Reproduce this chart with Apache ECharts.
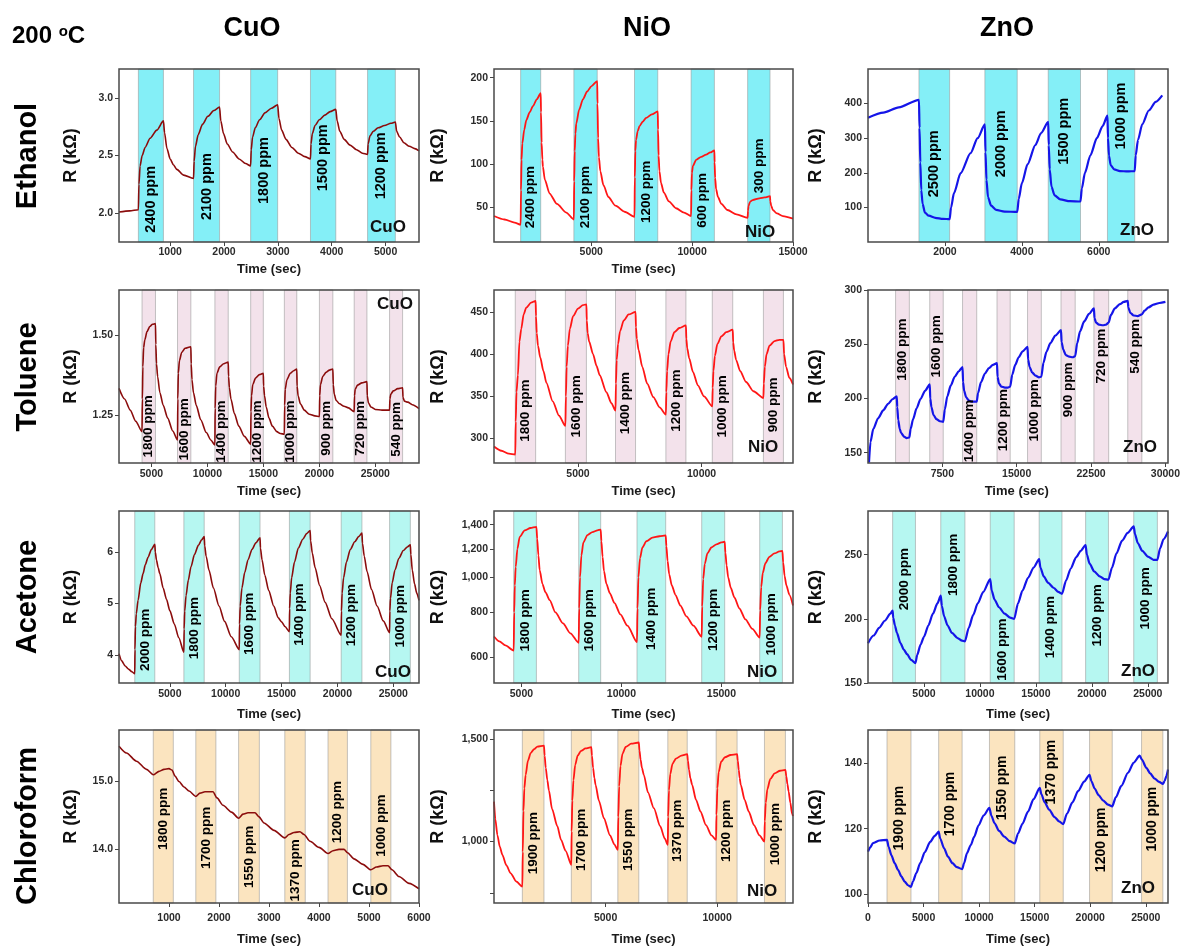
<!DOCTYPE html>
<html><head><meta charset="utf-8">
<script src="https://cdn.jsdelivr.net/npm/echarts@6/dist/echarts.min.js"></script>
<style>html,body{margin:0;padding:0;background:#fff}#c{width:1183px;height:948px}</style>
</head><body><div id="c"></div>
<script>
// ---------------- DATA ----------------
const rowNames = ['Ethanol','Toluene','Acetone','Chloroform'];
const matNames = ['CuO','NiO','ZnO'];

// Ethanol
const ethanolCuO = [[50,2.01],[250,2.02],[410,2.03],[420,2.25],[442,2.41],[480,2.50],[535,2.57],[628,2.65],[752,2.72],[875,2.80],[895,2.70],[940,2.56],[1000,2.47],[1060,2.42],[1124,2.38],[1250,2.33],[1434,2.30],[1445,2.45],[1470,2.58],[1520,2.68],[1600,2.77],[1700,2.84],[1810,2.89],[1917,2.92],[1940,2.80],[1990,2.69],[2060,2.60],[2160,2.53],[2280,2.47],[2400,2.43],[2494,2.41],[2505,2.55],[2530,2.66],[2580,2.74],[2660,2.81],[2760,2.87],[2880,2.91],[2996,2.94],[3020,2.82],[3070,2.72],[3150,2.64],[3260,2.57],[3380,2.52],[3500,2.49],[3605,2.47],[3615,2.60],[3640,2.69],[3690,2.76],[3770,2.81],[3870,2.85],[3970,2.88],[4075,2.90],[4100,2.80],[4150,2.71],[4230,2.64],[4340,2.59],[4460,2.55],[4570,2.52],[4665,2.51],[4675,2.60],[4710,2.67],[4770,2.71],[4860,2.74],[4980,2.76],[5100,2.78],[5181,2.79],[5205,2.71],[5260,2.66],[5340,2.61],[5440,2.58],[5540,2.56],[5620,2.54]];
const ethanolCuOBands = [[410,875],[1434,1917],[2494,2996],[3605,4075],[4665,5181]];
const ethanolCuOPpm = [2400,2100,1800,1500,1200];
const ethanolCuOXTicks = [1000,2000,3000,4000,5000];
const ethanolCuOYTicks = [2.0,2.5,3.0];

const ethanolNiO = [[180,40],[700,36],[1200,32.5],[1500,30],[1520,70],[1545,105],[1584,124],[1680,140],[1782,151],[1950,160],[2109,167],[2300,175],[2495,182],[2510,160],[2540,125],[2580,105],[2604,97],[2700,82],[2936,66],[3300,54],[3762,44],[4139,36],[4155,80],[4180,115],[4215,135],[4257,147],[4400,163],[4587,175],[4800,184],[5000,190],[5297,196],[5310,170],[5340,130],[5380,108],[5450,92],[5600,76],[5850,62],[6200,52],[6650,45],[7144,39],[7160,85],[7185,115],[7220,128],[7300,138],[7392,144],[7550,149],[7723,153.5],[8000,157.5],[8297,161],[8310,140],[8340,110],[8380,92],[8460,78],[8600,67],[8850,57],[9200,49],[9600,44],[9950,40],[9965,70],[9990,90],[10040,98],[10198,105],[10450,108.5],[10693,111],[10900,113.5],[11103,116],[11115,102],[11140,84],[11190,71],[11280,62],[11450,54],[11750,47],[12200,42],[12752,38],[12770,46],[12800,52],[12870,56.5],[13000,58.5],[13333,60.5],[13600,61.5],[13861,63],[13875,57],[13920,52],[14000,47],[14200,43],[14500,40],[15000,37]];
const ethanolNiOBands = [[1500,2495],[4139,5297],[7144,8297],[9950,11103],[12752,13861]];
const ethanolNiOPpm = [2400,2100,1200,600,300];
const ethanolNiOXTicks = [5000,10000,15000];
const ethanolNiOYTicks = [50,100,150,200];

const ethanolZnO = [[0,359],[400,374],[800,389],[1325,411],[1340,330],[1360,230],[1385,150],[1420,110],[1480,85],[1580,76],[1750,70],[1950,67],[2122,66],[2160,100],[2234,141],[2408,199],[2667,257],[2850,300],[3039,340],[3055,260],[3080,180],[3120,130],[3200,105],[3330,93],[3550,88],[3880,87],[3920,125],[4000,170],[4150,225],[4350,280],[4500,315],[4686,347],[4700,280],[4725,210],[4770,160],[4850,135],[5000,123],[5250,118],[5525,117],[5560,155],[5640,200],[5780,250],[5950,300],[6100,335],[6226,365],[6240,300],[6265,250],[6310,222],[6400,210],[6550,205],[6750,204],[6935,205],[6960,250],[7020,295],[7130,340],[7300,380],[7480,405],[7650,424]];
const ethanolZnOBands = [[1325,2122],[3039,3880],[4686,5525],[6226,6935]];
const ethanolZnOPpm = [2500,2000,1500,1000];
const ethanolZnOXTicks = [2000,4000,6000];
const ethanolZnOYTicks = [100,200,300,400];

// Toluene
const tolueneCuO = [[2100,1.333],[2600,1.30],[3100,1.265],[3600,1.23],[4158,1.198],[4190,1.30],[4230,1.40],[4300,1.46],[4403,1.484],[4600,1.51],[4848,1.526],[5100,1.533],[5358,1.535],[5390,1.47],[5450,1.41],[5550,1.37],[5750,1.32],[6050,1.28],[6450,1.24],[6900,1.20],[7328,1.172],[7355,1.30],[7400,1.38],[7500,1.42],[7700,1.445],[8000,1.458],[8519,1.463],[8550,1.41],[8620,1.36],[8750,1.32],[9000,1.28],[9400,1.235],[9900,1.195],[10300,1.172],[10667,1.156],[10690,1.27],[10740,1.34],[10850,1.38],[11100,1.40],[11450,1.41],[11858,1.415],[11890,1.37],[11960,1.335],[12100,1.30],[12400,1.255],[12800,1.215],[13300,1.183],[13863,1.159],[13890,1.26],[13940,1.31],[14050,1.345],[14300,1.365],[14650,1.376],[14991,1.38],[15020,1.34],[15100,1.31],[15250,1.275],[15500,1.24],[15800,1.215],[16200,1.198],[16500,1.192],[16871,1.19],[16900,1.28],[16950,1.33],[17100,1.36],[17400,1.38],[17700,1.388],[17981,1.393],[18010,1.34],[18100,1.31],[18300,1.285],[18650,1.265],[19100,1.252],[19600,1.247],[20004,1.245],[20030,1.31],[20100,1.345],[20300,1.37],[20600,1.383],[20900,1.39],[21204,1.393],[21240,1.345],[21330,1.315],[21500,1.295],[21800,1.285],[22200,1.277],[22600,1.272],[23111,1.26],[23140,1.31],[23200,1.33],[23400,1.343],[23800,1.35],[24248,1.354],[24280,1.31],[24380,1.288],[24600,1.275],[25000,1.267],[25600,1.265],[26271,1.265],[26300,1.30],[26380,1.315],[26600,1.325],[27000,1.332],[27435,1.335],[27470,1.305],[27600,1.293],[27900,1.29],[28300,1.282],[28900,1.27]];
const tolueneCuOBands = [[4158,5358],[7328,8519],[10667,11858],[13863,14991],[16871,17981],[20004,21204],[23111,24248],[26271,27435]];
const tolueneCuOPpm = [1800,1600,1400,1200,1000,900,720,540];
const tolueneCuOXTicks = [5000,10000,15000,20000,25000];
const tolueneCuOYTicks = [1.25,1.50];

const tolueneNiO = [[1600,290.5],[1900,285.5],[2200,282],[2461,281],[2480,320],[2510,355],[2567,375],[2630,415],[2703,430],[2800,447],[2905,455],[3100,461],[3285,463],[3300,445],[3330,425],[3380,410],[3471,396],[3600,380],[3721,366],[3977,344],[4232,327],[4489,315],[4510,350],[4540,385],[4590,410],[4670,430],[4800,445],[5000,454],[5200,458],[5340,459],[5355,440],[5390,425],[5450,415],[5608,400],[5750,386],[5878,375],[6149,355],[6350,342],[6517,333],[6535,365],[6565,393],[6620,412],[6700,427],[6850,440],[7050,447],[7328,450],[7345,432],[7380,418],[7450,405],[7600,385],[7800,365],[8050,349],[8300,337],[8556,328.5],[8575,355],[8605,380],[8660,400],[8750,415],[8900,426],[9100,431],[9367,434],[9385,418],[9420,407],[9500,395],[9650,379],[9850,363],[10100,350],[10434,338],[10450,360],[10480,380],[10540,398],[10640,412],[10800,421],[11000,426],[11261,429],[11280,414],[11320,404],[11400,393],[11560,380],[11800,367],[12100,356],[12502,348],[12520,365],[12560,385],[12630,400],[12750,410],[12950,415.5],[13150,417],[13313,417],[13340,400],[13420,385],[13550,372],[13700,364]];
const tolueneNiOBands = [[2461,3285],[4489,5340],[6517,7328],[8556,9367],[10434,11261],[12502,13313]];
const tolueneNiOPpm = [1800,1600,1400,1200,1000,900];
const tolueneNiOXTicks = [5000,10000];
const tolueneNiOYTicks = [300,350,400,450];

const tolueneZnO = [[100,141],[250,160],[536,172],[1033,182],[1530,189],[2026,195],[2500,199.5],[2900,202],[2950,192],[3050,180],[3200,172],[3348,168],[3676,164.5],[3900,163.5],[4172,164],[4300,172],[4550,181],[4900,191],[5300,199.5],[5750,207],[6228,213],[6280,200],[6400,192],[6600,185],[6900,181],[7250,179],[7589,178.5],[7750,190],[8000,202],[8350,212],[8750,220],[9150,225],[9536,229],[9590,215],[9700,207],[9900,201],[10200,198],[10500,197],[10967,197],[11100,205],[11400,215],[11800,223],[12200,228],[12600,231],[13013,232.5],[13070,220],[13200,214],[13450,211],[13800,210],[14100,210],[14344,211],[14550,222],[14850,231],[15200,238],[15600,243.5],[16093,247.5],[16150,236],[16300,229],[16550,224],[16900,221],[17250,219.5],[17483,220],[17700,233],[18000,243],[18400,251],[18900,258],[19470,263],[19530,252],[19700,245],[19950,240],[20300,238.5],[20650,238],[20901,239],[21100,251],[21400,262],[21800,271],[22300,278],[22788,283],[22850,274],[23000,270],[23300,268],[23700,267.5],[24000,268],[24278,270],[24500,277],[24900,283],[25400,287],[25800,289],[26202,290],[26260,284],[26450,279],[26800,276.5],[27200,276],[27623,277.5],[27900,281],[28300,284],[28800,286.5],[29400,288],[30000,289]];
const tolueneZnOBands = [[2781,4172],[6228,7589],[9536,10967],[13013,14344],[16093,17483],[19470,20901],[22788,24278],[26202,27623]];
const tolueneZnOPpm = [1800,1600,1400,1200,1000,900,720,540];
const tolueneZnOXTicks = [7500,15000,22500,30000];
const tolueneZnOYTicks = [150,200,250,300];

// Acetone
const acetoneCuO = [[450,4.02],[700,3.88],[1000,3.78],[1300,3.72],[1600,3.67],[1861,3.63],[1880,4.10],[1920,4.55],[2000,4.80],[2157,5.06],[2400,5.40],[2605,5.58],[2800,5.75],[3054,5.90],[3350,6.05],[3655,6.15],[3700,6.00],[3800,5.85],[3950,5.70],[4103,5.58],[4400,5.30],[4700,5.08],[5000,4.86],[5400,4.60],[5800,4.33],[6256,4.05],[6280,4.50],[6330,4.85],[6450,5.15],[6650,5.45],[6900,5.72],[7200,5.95],[7550,6.13],[7850,6.24],[8076,6.30],[8120,6.12],[8250,5.92],[8500,5.65],[8900,5.30],[9400,4.95],[9900,4.65],[10500,4.35],[11215,4.10],[11240,4.60],[11300,4.95],[11450,5.30],[11700,5.60],[12000,5.85],[12350,6.05],[12700,6.18],[13072,6.28],[13110,6.08],[13250,5.85],[13500,5.55],[13850,5.25],[14300,4.95],[14700,4.72],[15000,4.64],[15300,4.55],[15700,4.45],[15720,4.90],[15780,5.20],[15900,5.50],[16150,5.80],[16500,6.08],[16900,6.25],[17250,6.36],[17556,6.42],[17600,6.22],[17750,5.98],[18000,5.70],[18400,5.35],[18900,5.02],[19500,4.70],[20336,4.38],[20360,4.85],[20420,5.20],[20550,5.50],[20800,5.80],[21150,6.05],[21550,6.20],[21900,6.30],[22193,6.37],[22240,6.17],[22400,5.92],[22650,5.62],[23050,5.27],[23550,4.95],[24100,4.66],[24668,4.43],[24690,4.85],[24750,5.10],[24900,5.40],[25150,5.65],[25500,5.88],[25900,6.03],[26250,6.10],[26525,6.14],[26570,5.95],[26700,5.65],[26900,5.38],[27100,5.20],[27300,5.06]];
const acetoneCuOBands = [[1861,3655],[6256,8076],[11215,13072],[15700,17556],[20336,22193],[24668,26525]];
const acetoneCuOPpm = [2000,1800,1600,1400,1200,1000];
const acetoneCuOXTicks = [5000,10000,15000,20000,25000];
const acetoneCuOYTicks = [4,5,6];

const acetoneNiO = [[3630,686],[3900,665],[4200,648],[4615,627],[4640,800],[4670,950],[4715,1069],[4800,1200],[4915,1294],[5165,1350],[5450,1370],[5750,1380],[5790,1280],[5850,1150],[5915,1047],[6050,960],[6200,910],[6415,865],[6700,800],[7080,746],[7450,700],[7865,659],[7890,820],[7930,1000],[8000,1150],[8100,1250],[8300,1310],[8550,1335],[8800,1350],[8965,1356],[9000,1260],[9060,1140],[9130,1040],[9250,960],[9420,905],[9650,850],[9950,790],[10300,735],[10780,662],[10805,820],[10850,1000],[10930,1130],[11050,1210],[11250,1260],[11550,1288],[11900,1300],[12215,1307],[12250,1220],[12310,1110],[12390,1020],[12520,950],[12700,895],[12950,835],[13250,780],[13600,735],[14015,685],[14040,830],[14090,990],[14170,1090],[14300,1165],[14500,1210],[14750,1235],[15000,1250],[15165,1256],[15200,1170],[15260,1080],[15340,1000],[15470,935],[15650,880],[15900,820],[16200,765],[16550,720],[16915,681],[16940,810],[16990,940],[17070,1030],[17200,1095],[17400,1140],[17650,1165],[17900,1180],[18050,1184],[18090,1100],[18160,1010],[18250,950],[18400,895],[18580,836]];
const acetoneNiOBands = [[4615,5750],[7865,8965],[10780,12215],[14015,15165],[16915,18050]];
const acetoneNiOPpm = [1800,1600,1400,1200,1000];
const acetoneNiOXTicks = [5000,10000,15000];
const acetoneNiOYTicks = [600,800,1000,1200,1400];

const acetoneZnO = [[0,181],[500,187],[1000,193],[1500,198.5],[2000,204],[2200,206.5],[2250,201],[2400,195],[2583,189],[2900,181],[3200,176],[3484,172.5],[3850,168],[4240,165.5],[4400,172],[4700,180],[5000,186],[5400,195],[5800,204],[6200,212],[6500,218],[6600,210],[6800,202],[7100,195],[7500,189],[8000,185],[8400,183],[8660,182.5],[9000,193],[9400,203],[9800,212],[10300,221],[10920,231],[11050,222],[11300,215],[11700,209],[12200,204],[12700,201],[13060,200],[13400,212],[13800,222],[14300,232],[14800,240],[15290,246.5],[15400,240],[15700,233],[16100,228],[16600,224],[17000,221],[17330,219.5],[17700,230],[18100,239],[18600,248],[19000,253],[19440,257.5],[19550,250],[19800,243],[20200,237],[20700,233],[21100,231],[21480,230.5],[21800,240],[22200,251],[22700,261],[23200,267],[23740,272],[23850,266],[24100,259],[24500,253],[25000,248.5],[25500,246],[25850,246],[26100,255],[26400,262],[26800,268]];
const acetoneZnOBands = [[2200,4240],[6500,8660],[10920,13060],[15290,17330],[19440,21480],[23740,25850]];
const acetoneZnOPpm = [2000,1800,1600,1400,1200,1000];
const acetoneZnOXTicks = [5000,10000,15000,20000,25000];
const acetoneZnOYTicks = [150,200,250];

// Chloroform
const chloroformCuO = [[0,15.52],[150,15.42],[350,15.30],[550,15.18],[685,15.10],[800,15.15],[900,15.18],[1000,15.19],[1060,15.17],[1120,15.08],[1200,15.0],[1300,14.92],[1400,14.86],[1536,14.78],[1620,14.83],[1720,14.85],[1880,14.85],[1960,14.76],[2080,14.65],[2250,14.55],[2392,14.46],[2480,14.52],[2580,14.54],[2720,14.54],[2800,14.48],[2900,14.39],[3100,14.28],[3316,14.17],[3400,14.22],[3500,14.25],[3620,14.26],[3700,14.22],[3820,14.12],[4000,14.03],[4180,13.94],[4280,13.98],[4400,14.0],[4500,14.0],[4570,13.95],[4700,13.86],[4880,13.78],[5036,13.70],[5150,13.74],[5280,13.76],[5380,13.76],[5460,13.70],[5600,13.60],[5800,13.50],[6000,13.42]];
const chloroformCuOBands = [[685,1086],[1536,1938],[2392,2807],[3316,3725],[4180,4568],[5036,5438]];
const chloroformCuOPpm = [1800,1700,1550,1370,1200,1000];
const chloroformCuOXTicks = [1000,2000,3000,4000,5000,6000];
const chloroformCuOYTicks = [14.0,15.0];

const chloroformNiO = [[0,1195],[60,1110],[152,1032],[260,975],[376,935],[550,885],[748,845],[1000,805],[1270,780],[1290,950],[1320,1150],[1360,1260],[1419,1326],[1520,1395],[1643,1432],[1800,1452],[1943,1464],[2240,1469],[2270,1420],[2320,1360],[2390,1300],[2462,1250],[2600,1160],[2838,1075],[3000,1010],[3210,955],[3465,886],[3480,1050],[3510,1200],[3560,1300],[3640,1375],[3750,1420],[3900,1443],[4100,1455],[4360,1461],[4390,1420],[4440,1360],[4500,1310],[4552,1277],[4700,1200],[4925,1114],[5200,1030],[5400,985],[5550,959],[5570,1120],[5610,1270],[5670,1370],[5760,1430],[5900,1462],[6150,1478],[6490,1484],[6520,1445],[6570,1400],[6630,1360],[6714,1326],[6900,1240],[7162,1163],[7450,1075],[7650,1015],[7790,984],[7805,1120],[7840,1250],[7900,1330],[8000,1380],[8150,1405],[8400,1420],[8660,1427],[8690,1395],[8740,1350],[8800,1310],[8880,1277],[9050,1205],[9253,1147],[9500,1080],[9750,1030],[9955,1008],[9970,1130],[10010,1260],[10070,1340],[10180,1390],[10350,1412],[10600,1423],[10895,1427],[10925,1395],[10970,1350],[11010,1310],[11060,1277],[11230,1205],[11415,1147],[11650,1080],[11900,1030],[12120,1000],[12135,1100],[12180,1190],[12250,1255],[12380,1305],[12580,1333],[12820,1346],[13060,1350],[13100,1320],[13150,1280],[13205,1244],[13280,1190],[13360,1135],[13400,1125]];
const chloroformNiOBands = [[1270,2240],[3465,4360],[5550,6490],[7790,8660],[9955,10895],[12120,13060]];
const chloroformNiOPpm = [1900,1700,1550,1370,1200,1000];
const chloroformNiOXTicks = [5000,10000];
const chloroformNiOYTicks = [750,1000,1250,1500];
const chloroformNiOYLabels = [1000,1500];

const chloroformZnO = [[0,113],[200,114.3],[450,115.6],[1050,116.4],[1710,116.6],[1850,114.5],[2100,112],[2400,109.5],[2700,107.5],[3000,105.5],[3300,103.9],[3600,102.8],[3870,102.3],[4050,104],[4350,106.5],[4700,109.5],[5100,112.8],[5600,116],[6000,117.8],[6360,119.1],[6500,117],[6850,114],[7200,111.5],[7600,109.5],[8000,108.3],[8470,107.7],[8650,109.5],[8900,112.5],[9250,115],[9550,117.5],[9950,121],[10400,124],[10930,126.3],[11100,124],[11380,121.7],[11800,119.3],[12270,117.6],[12750,116.2],[13210,115.5],[13500,118.5],[13900,121.5],[14400,125.2],[14900,129],[15460,132.4],[15600,130.5],[15900,128],[16300,125.8],[16800,123.5],[17200,122.2],[17570,121.4],[17900,124.5],[18400,128],[18920,131.5],[19450,134.3],[19940,136.4],[20100,134.5],[20400,132.2],[20750,130.2],[21150,128.6],[21600,127.3],[21980,126.8],[22300,129.5],[22800,133],[23400,137],[23900,140],[24450,142.2],[24650,141],[25050,138.5],[25400,136.8],[25800,135.2],[26200,134.2],[26540,133.6],[26700,134.5],[26850,136],[27000,138]];
const chloroformZnOBands = [[1710,3870],[6360,8470],[10930,13210],[15460,17570],[19940,21980],[24620,26540]];
const chloroformZnOPpm = [1900,1700,1550,1370,1200,1000];
const chloroformZnOXTicks = [0,5000,10000,15000,20000,25000];
const chloroformZnOYTicks = [100,120,140];

// ---------------- LAYOUT / STYLE ----------------
const FONT = "'Liberation Sans', Arial, Helvetica, sans-serif";
const colLeft = [119, 494, 868], colW = [300, 299, 300];
const rowTop = [69, 290, 511, 730], rowH = [173, 173, 172, 173];
const rowBand = ['#84eff7', '#f3e2eb', '#b6f7f1', '#fbe4bf'];
const matColor = ['#8b0c0c', '#ff1616', '#1515e8'];
const matWidth = [1.6, 1.8, 2.2];
const xNameGap = [21, 22, 25, 30];
const xLabelMargin = [5, 6, 6, 10];
const yNameGap = [39, 47, 43];

const panels = [
  {r:0,c:0,d:ethanolCuO,b:ethanolCuOBands,p:ethanolCuOPpm,xt:ethanolCuOXTicks,yt:ethanolCuOYTicks,xr:[50,5620],yr:[1.75,3.25],dec:1,ly:[2.12,2.23,2.37,2.48,2.41],lfs:14.5,mat:[388,227]},
  {r:0,c:1,d:ethanolNiO,b:ethanolNiOBands,p:ethanolNiOPpm,xt:ethanolNiOXTicks,yt:ethanolNiOYTicks,xr:[180,15000],yr:[10,210],dec:0,ly:[62,62,68,58,98],lfs:13.5,mat:[760,232]},
  {r:0,c:2,d:ethanolZnO,b:ethanolZnOBands,p:ethanolZnOPpm,xt:ethanolZnOXTicks,yt:ethanolZnOYTicks,xr:[0,7800],yr:[0,500],dec:0,ly:[226,284,320,364],lfs:14.5,mat:[1137,230],noXName:true},
  {r:1,c:0,d:tolueneCuO,b:tolueneCuOBands,p:tolueneCuOPpm,xt:tolueneCuOXTicks,yt:tolueneCuOYTicks,xr:[2100,28900],yr:[1.10,1.64],dec:2,ly:[1.214,1.205,1.198,1.198,1.198,1.208,1.208,1.205],lfs:13.5,mat:[395,304]},
  {r:1,c:1,d:tolueneNiO,b:tolueneNiOBands,p:tolueneNiOPpm,xt:tolueneNiOXTicks,yt:tolueneNiOYTicks,xr:[1600,13700],yr:[271,476],dec:0,ly:[333,338,342,345,338,340],lfs:13.5,mat:[763,447]},
  {r:1,c:2,d:tolueneZnO,b:tolueneZnOBands,p:tolueneZnOPpm,xt:tolueneZnOXTicks,yt:tolueneZnOYTicks,xr:[0,30000],yr:[140.5,300],dec:0,ly:[245,248,170,180,189,208,239,248],lfs:13.5,mat:[1140,447]},
  {r:2,c:0,d:acetoneCuO,b:acetoneCuOBands,p:acetoneCuOPpm,xt:acetoneCuOXTicks,yt:acetoneCuOYTicks,xr:[450,27300],yr:[3.45,6.8],dec:0,ly:[4.29,4.52,4.60,4.78,4.77,4.75],lfs:13.5,mat:[393,672]},
  {r:2,c:1,d:acetoneNiO,b:acetoneNiOBands,p:acetoneNiOPpm,xt:acetoneNiOXTicks,yt:acetoneNiOYTicks,xr:[3630,18580],yr:[510,1527],log:true,comma:true,ly:[760,760,768,763,741],lfs:13.5,mat:[762,672]},
  {r:2,c:2,d:acetoneZnO,b:acetoneZnOBands,p:acetoneZnOPpm,xt:acetoneZnOXTicks,yt:acetoneZnOYTicks,xr:[0,26800],yr:[150,284],dec:0,ly:[231,242,176,193.5,202.6,216],lfs:13.5,mat:[1138,671]},
  {r:3,c:0,d:chloroformCuO,b:chloroformCuOBands,p:chloroformCuOPpm,xt:chloroformCuOXTicks,yt:chloroformCuOYTicks,xr:[0,6000],yr:[13.21,15.76],dec:1,ly:[14.45,14.17,13.89,13.69,14.55,14.35],lfs:13.5,mat:[370,890]},
  {r:3,c:1,d:chloroformNiO,b:chloroformNiOBands,p:chloroformNiOPpm,xt:chloroformNiOXTicks,yt:chloroformNiOYTicks,yl:chloroformNiOYLabels,xr:[0,13400],yr:[700,1545],comma:true,ly:[992,1008,1008,1052,1052,1036],lfs:13.5,mat:[762,891]},
  {r:3,c:2,d:chloroformZnO,b:chloroformZnOBands,p:chloroformZnOPpm,xt:chloroformZnOXTicks,yt:chloroformZnOYTicks,xr:[0,27000],yr:[97.4,150],dec:0,ly:[123.2,127.5,132.4,137.2,116.6,122.9],lfs:14,mat:[1138,888]}
];

function fmtY(v, p) {
  if (p.comma) return Math.round(v).toString().replace(/\B(?=(\d{3})+(?!\d))/g, ',');
  return Number(v).toFixed(p.dec || 0);
}

const option = {animation:false, backgroundColor:'#fff', grid:[], xAxis:[], yAxis:[], series:[], graphic:[]};
const tickLbl = {fontFamily:FONT, fontWeight:'bold', fontSize:10.5, color:'#2b2b2b'};

panels.forEach((p, i) => {
  const left = colLeft[p.c], top = rowTop[p.r], w = colW[p.c], h = rowH[p.r];
  option.grid.push({left:left, top:top, width:w, height:h});
  option.xAxis.push({
    gridIndex:i, type:'value', min:p.xr[0], max:p.xr[1],
    axisLine:{show:false}, splitLine:{show:false},
    axisTick:{show:true, length:4, customValues:p.xt, lineStyle:{color:'#444', width:1}},
    axisLabel:Object.assign({margin:xLabelMargin[p.r], customValues:p.xt, formatter:v => String(Math.round(v))}, tickLbl),
    name:p.noXName ? '' : 'Time (sec)', nameLocation:'middle', nameGap:xNameGap[p.r],
    nameTextStyle:{fontFamily:FONT, fontWeight:'bold', fontSize:13, color:'#1a1a1a'}
  });
  option.yAxis.push({
    gridIndex:i, type:p.log ? 'log' : 'value', logBase:10, min:p.yr[0], max:p.yr[1],
    axisLine:{show:false}, splitLine:{show:false},
    axisTick:{show:true, length:4, customValues:p.yt, lineStyle:{color:'#444', width:1}},
    axisLabel:Object.assign({margin:6, customValues:p.yl || p.yt, formatter:v => fmtY(v, p)}, tickLbl),
    name:'R (kΩ)', nameLocation:'middle', nameGap:yNameGap[p.c],
    nameTextStyle:{fontFamily:FONT, fontWeight:'bold', fontSize:18, color:'#111'}
  });
  option.series.push({
    type:'line', xAxisIndex:i, yAxisIndex:i, data:p.d, showSymbol:false, symbol:'none',
    smooth:0.25, smoothMonotone:'x', silent:true, z:3,
    lineStyle:{color:matColor[p.c], width:matWidth[p.c]},
    markArea:{silent:true, itemStyle:{color:rowBand[p.r], opacity:1, borderColor:'rgba(150,150,150,0.7)', borderWidth:0.8},
      data:p.b.map(b => [{xAxis:b[0]}, {xAxis:b[1]}])}
  });
  option.series.push({
    type:'scatter', xAxisIndex:i, yAxisIndex:i, symbolSize:0, silent:true, z:5,
    itemStyle:{opacity:1},
    data:p.b.map((b, k) => ({value:[(b[0] + b[1]) / 2, p.ly[k]], name:p.p[k] + ' ppm'})),
    label:{show:true, position:'inside', rotate:90, formatter:'{b}', opacity:1, fontFamily:FONT, fontWeight:'bold', fontSize:p.lfs, color:'#000'}
  });
  option.graphic.push({type:'rect', silent:true, z:100, shape:{x:left, y:top, width:w, height:h},
    style:{fill:'none', stroke:'#4a4a4a', lineWidth:1.5}});
  option.graphic.push({type:'text', silent:true, z:101, x:p.mat[0], y:p.mat[1],
    style:{text:matNames[p.c], font:"bold 17px " + FONT, fill:'#111', align:'center', verticalAlign:'middle'}});
});

// row labels
const rowLabelY = [156, 377, 597, 826];
rowNames.forEach((n, r) => option.graphic.push({type:'text', silent:true, z:101, x:28, y:rowLabelY[r], rotation:Math.PI/2,
  style:{text:n, font:"bold 29px " + FONT, fill:'#000', align:'center', verticalAlign:'middle'}}));
// column titles
const colTitleX = [252, 647, 1007];
matNames.forEach((n, c) => option.graphic.push({type:'text', silent:true, z:101, x:colTitleX[c], y:29,
  style:{text:n, font:"bold 27px " + FONT, fill:'#000', align:'center', verticalAlign:'middle'}}));
option.graphic.push({type:'text', silent:true, z:101, x:12, y:36,
  style:{text:'{a|200 }{b|o}{a|C}', verticalAlign:'middle',
    rich:{a:{fontFamily:FONT, fontWeight:'bold', fontSize:24, fill:'#000', color:'#000'},
          b:{fontFamily:FONT, fontWeight:'bold', fontSize:15, fill:'#000', color:'#000', verticalAlign:'top'}}}});

const chart = echarts.init(document.getElementById('c'), null, {renderer:'canvas'});
chart.setOption(option);
</script></body></html>
